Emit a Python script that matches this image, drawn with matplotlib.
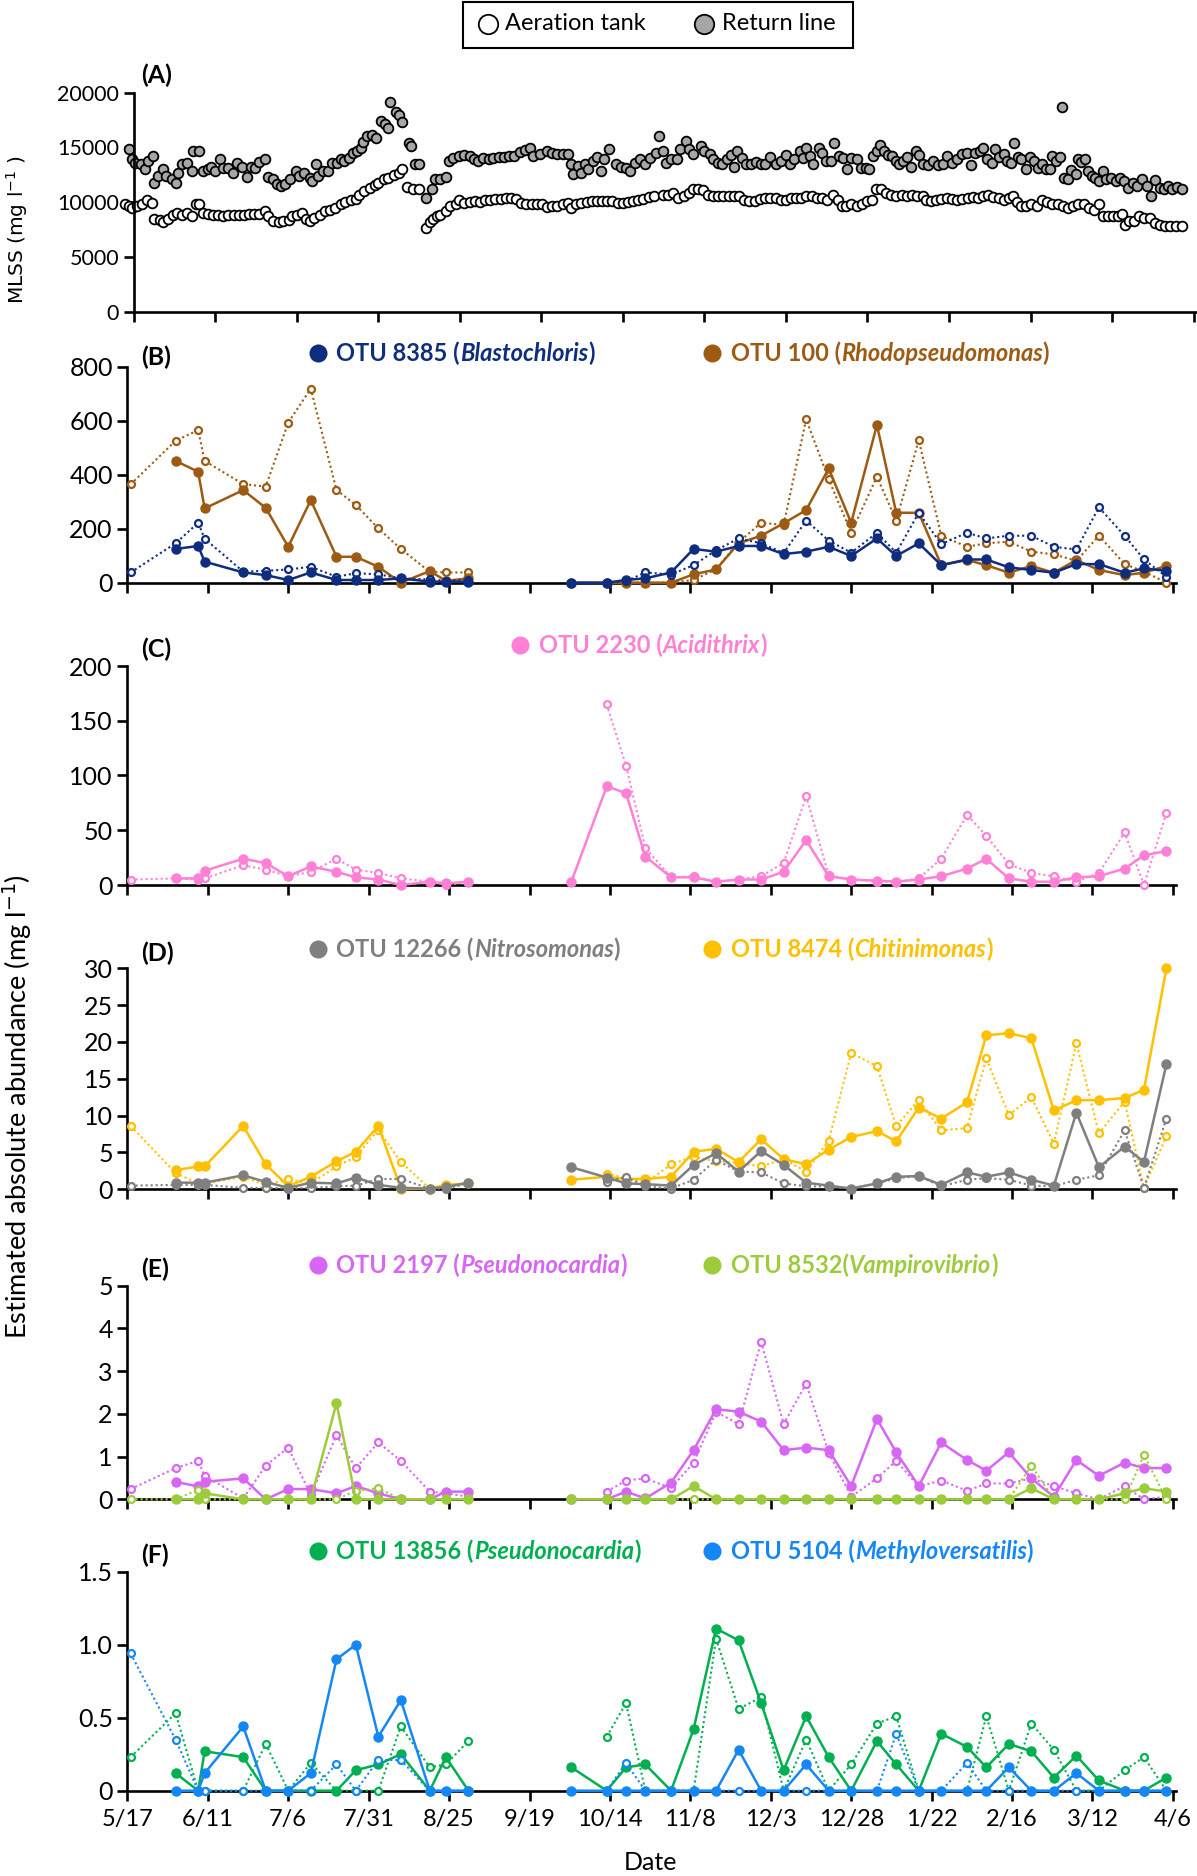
import numpy as np
import matplotlib
matplotlib.use('Agg')
import matplotlib.pyplot as plt
from matplotlib.lines import Line2D
from matplotlib.patches import Rectangle

plt.rcParams['font.family'] = ['Lato', 'DejaVu Sans']

W, H = 1197, 1876

# ---------------- (A) MLSS, (day after 5/17, mg/l) ----------------
mlss_aeration = [
    (-2.6, 9790), (-1.6, 9690), (-0.5, 9480), (1.1, 9690), (2.6, 9790), (4.0, 10240), (5.5, 9940),
    (6.3, 8470), (7.9, 8410), (9.0, 8170), (10.6, 8470), (12.1, 8870), (13.2, 9020), (14.8, 8870),
    (16.4, 9020), (17.7, 8780), (19.0, 9880), (20.1, 9880), (21.1, 9020), (22.7, 8930), (24.3, 8870),
    (25.9, 8870), (27.5, 8780), (29.0, 8870), (30.6, 8870), (32.2, 8870), (33.8, 8870), (35.4, 8930),
    (37.0, 8930), (38.5, 8930), (40.1, 9170), (41.2, 8780), (42.8, 8260), (44.4, 8170), (45.9, 8260),
    (47.5, 8350), (48.6, 8780), (50.2, 8870), (51.5, 9020), (52.8, 8470), (53.9, 8260), (55.4, 8560),
    (57.0, 8870), (58.6, 9170), (60.2, 9330), (61.8, 9480), (63.4, 9790), (64.9, 10000), (66.5, 10240),
    (68.1, 10310), (69.2, 10700), (70.7, 11010), (72.3, 11320), (73.9, 11530), (75.0, 11770),
    (76.6, 12080), (78.1, 12230), (79.7, 12450), (81.3, 12690), (82.4, 13000), (83.9, 11410),
    (85.5, 11160), (87.4, 11160), (89.5, 7650), (90.8, 8170), (91.9, 8470), (92.9, 8720), (94.0, 8870),
    (95.6, 9170), (97.1, 9630), (98.7, 9880), (99.8, 10180), (101.4, 9940), (103.0, 10000),
    (104.5, 10090), (106.1, 10000), (107.7, 10240), (109.3, 10180), (110.9, 10310), (112.5, 10310),
    (114.0, 10400), (115.6, 10400), (117.2, 10310), (118.8, 9940), (120.4, 9880), (122.0, 9880),
    (123.5, 9880), (125.1, 9880), (126.7, 9570), (128.3, 9690), (129.9, 9690), (131.5, 9790),
    (133.1, 9940), (134.1, 9480), (135.7, 9790), (137.3, 9940), (138.9, 10000), (140.4, 10090),
    (142.0, 10090), (143.6, 10090), (145.2, 10090), (146.8, 10090), (148.4, 9940), (149.9, 9940),
    (151.5, 10000), (153.1, 10090), (154.7, 10240), (156.3, 10310), (157.9, 10490), (159.5, 10550),
    (162.3, 10700), (163.9, 10700), (165.5, 10860), (167.0, 10400), (168.6, 10550), (170.2, 10860),
    (171.6, 11160), (172.9, 11220), (174.5, 11100), (176.1, 10700), (177.7, 10550), (179.2, 10550),
    (180.8, 10610), (182.4, 10610), (184.0, 10610), (185.6, 10610), (187.2, 10240), (188.8, 10090),
    (190.4, 10090), (192.0, 10310), (193.6, 10400), (195.2, 10400), (196.8, 10400), (198.4, 10180),
    (200.0, 10240), (201.5, 10400), (203.1, 10400), (204.7, 10400), (206.3, 10550), (207.9, 10610),
    (209.5, 10400), (211.1, 10400), (212.7, 10240), (214.3, 10700), (215.9, 10180), (217.3, 9690),
    (218.5, 9630), (220.1, 9790), (221.7, 9630), (223.3, 9790), (224.9, 10090), (226.5, 10180),
    (227.6, 11160), (229.1, 11160), (230.7, 10860), (232.3, 10700), (233.9, 10610), (235.5, 10700),
    (237.1, 10610), (238.7, 10700), (240.3, 10610), (241.9, 10550), (243.0, 10180), (244.5, 10090),
    (246.1, 10180), (247.7, 10310), (249.3, 10400), (250.9, 10310), (252.5, 10180), (254.1, 10310),
    (255.7, 10400), (257.3, 10490), (258.9, 10400), (260.5, 10550), (262.1, 10700), (263.6, 10490),
    (265.2, 10400), (266.8, 10240), (268.4, 10400), (269.7, 10610), (270.8, 10000), (272.1, 9690),
    (273.7, 9690), (275.3, 9790), (276.9, 9630), (278.5, 10180), (280.1, 10000), (281.7, 9880),
    (283.3, 9790), (284.9, 9630), (286.5, 9480), (288.1, 9690), (289.7, 9790), (291.3, 9880),
    (292.9, 9480), (294.5, 9270), (295.9, 9790), (297.1, 8720), (298.7, 8720), (300.3, 8720),
    (301.9, 8720), (303.0, 8960), (304.0, 7950), (305.1, 8260), (306.7, 8260), (308.3, 8780),
    (309.9, 8560), (311.5, 8560), (313.1, 8100), (314.7, 7950), (316.3, 7800), (317.9, 7800),
    (319.5, 7800), (321.5, 7800),
]

mlss_return = [
    (-1.6, 14890), (-0.5, 13910), (0.5, 13610), (2.1, 13460), (3.4, 13000), (4.4, 13760), (5.8, 14220),
    (6.3, 11770), (7.4, 12390), (9.0, 13000), (10.0, 12390), (11.6, 12080), (12.9, 11770), (13.7, 12690),
    (14.8, 13460), (16.4, 13610), (17.7, 12840), (18.2, 14680), (20.1, 14680), (21.1, 12840),
    (22.7, 13000), (23.8, 13240), (24.8, 12840), (26.4, 13980), (27.5, 13150), (29.0, 13150),
    (30.4, 12690), (31.7, 13550), (33.3, 13240), (34.8, 12320), (35.9, 13240), (37.2, 13150),
    (38.5, 13670), (40.1, 13910), (41.2, 12320), (42.8, 12080), (43.8, 11620), (45.2, 11470),
    (46.5, 11620), (48.0, 12080), (49.6, 12840), (50.7, 12390), (52.3, 12690), (53.9, 12230),
    (54.7, 11930), (55.8, 13460), (56.5, 12390), (58.1, 12840), (59.7, 12840), (60.7, 13610),
    (62.3, 13610), (63.4, 13910), (64.4, 13760), (66.0, 14070), (67.1, 14530), (68.4, 14680),
    (69.7, 14990), (70.2, 15510), (71.6, 16060), (72.9, 16120), (74.4, 15900), (75.8, 17430),
    (77.1, 17130), (77.9, 16820), (78.5, 19170), (80.3, 18200), (81.3, 17950), (82.4, 17280),
    (84.3, 15440), (85.0, 15140), (86.1, 13460), (87.6, 13460), (89.5, 10410), (91.3, 11160),
    (92.4, 12080), (94.0, 12080), (95.6, 12320), (96.6, 13760), (98.0, 14070), (99.8, 14220),
    (101.4, 14280), (103.0, 14220), (104.3, 13910), (105.6, 13760), (107.2, 14070), (108.8, 13910),
    (110.3, 14070), (111.9, 14160), (113.5, 14160), (115.1, 14220), (116.7, 14220), (118.3, 14590),
    (119.9, 14770), (121.4, 14990), (122.5, 14220), (124.6, 14370), (126.7, 14680), (128.3, 14470),
    (129.9, 14370), (131.5, 14370), (133.1, 14370), (134.1, 13460), (134.6, 12540), (136.2, 13300),
    (137.3, 12690), (138.3, 13460), (139.4, 13000), (140.7, 13760), (142.0, 14160), (143.4, 12840),
    (144.1, 13910), (145.7, 14890), (147.8, 13460), (149.4, 13240), (151.0, 13150), (152.1, 12840),
    (153.6, 13610), (155.2, 13980), (156.8, 13460), (158.4, 14070), (160.0, 14470), (161.0, 16060),
    (162.3, 14680), (163.3, 13610), (164.9, 13910), (166.5, 13910), (167.6, 14830), (169.2, 15600),
    (170.2, 14830), (171.6, 14370), (173.9, 15140), (175.0, 14680), (176.6, 14370), (177.7, 13910),
    (179.2, 13610), (180.5, 13460), (181.9, 13910), (183.0, 14280), (184.2, 13240), (185.1, 14680),
    (186.5, 14070), (187.7, 13460), (189.3, 13460), (190.9, 13670), (192.5, 13460), (193.6, 13460),
    (195.2, 14160), (196.8, 13460), (198.4, 13760), (200.0, 14280), (201.3, 13460), (202.6, 13980),
    (204.2, 14680), (205.3, 14070), (206.3, 14990), (207.4, 14220), (208.4, 13460), (210.0, 14990),
    (211.1, 14530), (212.4, 13760), (213.7, 13760), (214.8, 15380), (216.2, 14220), (217.5, 14070),
    (218.7, 13060), (220.1, 14070), (221.7, 13910), (223.0, 13150), (224.4, 13150), (225.6, 13060),
    (226.8, 14220), (227.9, 14680), (228.9, 15200), (230.2, 14680), (231.3, 14280), (232.5, 14220),
    (233.6, 13760), (234.7, 13460), (236.0, 13760), (237.1, 14160), (238.4, 13240), (239.8, 14680),
    (240.8, 14280), (242.1, 13460), (243.5, 13360), (245.1, 13760), (246.7, 13360), (248.2, 13460),
    (249.3, 14220), (250.9, 13610), (252.5, 13910), (254.1, 14370), (255.5, 14470), (256.7, 13360),
    (258.0, 14470), (259.4, 14680), (260.4, 14990), (261.8, 13910), (263.1, 13550), (264.2, 14890),
    (265.4, 14160), (266.8, 14370), (267.9, 13760), (268.9, 13610), (269.8, 15380), (271.1, 14160),
    (272.1, 13910), (273.7, 13000), (274.8, 14160), (276.1, 13760), (277.4, 13150), (278.5, 13460),
    (279.6, 13060), (280.9, 13060), (281.7, 14220), (282.7, 13760), (284.0, 14160), (284.7, 18720),
    (285.4, 12230), (286.5, 12140), (287.5, 12940), (288.8, 12540), (289.6, 13910), (290.5, 13670),
    (291.8, 13910), (292.6, 12840), (293.9, 12390), (294.9, 12230), (296.0, 11930), (297.3, 12840),
    (298.3, 12080), (299.7, 12230), (301.1, 11930), (302.4, 12230), (303.7, 11930), (305.0, 11320),
    (306.4, 11770), (307.7, 11470), (309.3, 12140), (310.7, 11470), (311.9, 10610), (313.2, 12020),
    (314.6, 11320), (316.0, 11160), (317.3, 11470), (318.5, 11160), (319.9, 11410), (321.5, 11160),
]

# ---------------- (B)-(F) sampling days (days after 5/17) ----------------
days_1 = [1, 15, 22, 24, 36, 43, 50, 57, 65, 71, 78, 85, 94, 99, 106]
days_2 = [138, 149, 155, 161, 169, 176, 183, 190, 197, 204, 211, 218, 225, 233,
          239, 246, 253, 261, 267, 274, 281, 288, 295, 302, 310, 316, 323]
N = None

# (B) OTU 8385, OTU 100  [mg/l]
otu8385_ret = [N, 125, 136, 78, 38, 28, 10, 38, 10, 10, 10, 16, 4, 4, 4,
               0, 0, 10, 16, 38, 125, 115, 136, 136, 106, 115, 133, 99, 164,
               99, 146, 65, 86, 86, 57, 47, 37, 69, 69, 37, 53, 44]
otu8385_aer = [38, 146, 222, 163, 41, 44, 49, 59, 22, 35, 31, 16, 12, 7, 10,
               N, 0, 5, 38, 30, 65, 120, 164, 146, 110, 230, 156, 111, 185,
               111, 259, 143, 185, 164, 174, 174, 133, 123, 279, 174, 86, 22]
otu100_ret = [N, 451, 411, 275, 343, 277, 133, 306, 96, 96, 59, 0, 43, 7, 16,
              0, 0, 0, 0, 0, 31, 49, 146, 174, 220, 269, 423, 222, 584,
              259, 259, 65, 84, 65, 37, 62, 37, 84, 47, 28, 37, 62]
otu100_aer = [364, 526, 565, 451, 365, 356, 593, 719, 343, 288, 201, 125, 40, 38, 38,
              N, 0, 0, 0, 0, 10, 50, 150, 222, 214, 605, 383, 185, 393,
              230, 528, 174, 133, 146, 152, 115, 105, 81, 174, 69, 41, 0]

# (C) OTU 2230
otu2230_ret = [N, 6, 6, 13, 24, 20, 8, 17, 12, 7, 5, 0, 3, 1.5, 3,
               3, 90, 84, 26, 7, 7, 3, 5, 5, 12, 41, 8, 5, 4,
               3, 5, 8, 15, 24, 6, 3, 3, 7, 8, 15, 27, 31]
otu2230_aer = [5, 6, 5, 6, 18, 14, 8, 12, 24, 14, 11, 6, 3, 0, 3,
               N, 165, 109, 34, 7, 8, 3, 5, 8, 20, 81, 9, 5, 3,
               3, 6, 24, 64, 45, 19, 11, 8, 3, 11, 48, 0, 66]

# (D) OTU 12266, OTU 8474
otu12266_ret = [N, 0.9, 0.9, 0.9, 1.9, 1.0, 0.2, 0.9, 0.8, 1.6, 0.6, 0.2, 0.1, 0.3, 0.9,
                3.0, 1.6, 0.8, 0.7, 0.5, 3.3, 4.9, 2.4, 5.2, 3.3, 0.9, 0.5, 0.1, 0.8,
                1.7, 1.8, 0.6, 2.3, 1.7, 2.3, 1.3, 0.5, 10.4, 3.0, 5.8, 3.7, 17.0]
otu12266_aer = [0.5, 0.6, 0.6, 0.6, 0.2, 0.2, 0.1, 0.2, 0.4, 0.5, 1.4, 1.4, 0.1, 0.1, 0.8,
                N, 1.0, 1.7, 0.4, 0.1, 1.3, 4.0, 2.4, 2.3, 0.8, 0.4, 0.4, 0.1, 0.8,
                1.5, 1.8, 0.4, 1.3, 1.5, 1.3, 0.5, 0.4, 1.3, 1.9, 8.0, 0.2, 9.6]
otu8474_ret = [N, 2.6, 3.1, 3.1, 8.6, 3.4, 0.4, 1.7, 3.8, 5.1, 8.6, 0.1, 0.1, 0.6, 0.8,
               1.3, 1.7, 1.4, 1.4, 1.7, 5.1, 5.5, 3.7, 6.8, 4.1, 3.4, 5.4, 7.1, 7.9,
               6.5, 11.1, 9.6, 11.8, 20.9, 21.2, 20.5, 10.7, 12.1, 12.1, 12.4, 13.5, 30.0]
otu8474_aer = [8.6, 2.2, 0.8, 0.8, 1.7, 0.6, 1.4, 0.8, 3.1, 4.4, 8.1, 3.7, 0.1, 0.4, 0.8,
               N, 2.1, 1.5, 0.8, 3.4, 4.4, 3.8, 3.6, 3.1, 4.1, 2.4, 6.6, 18.5, 16.7,
               8.6, 12.1, 8.0, 8.3, 17.8, 10.1, 12.5, 6.2, 19.8, 7.6, 11.9, 0.2, 7.2]

# (E) OTU 2197, OTU 8532
otu2197_ret = [N, 0.41, 0.30, 0.41, 0.49, 0.0, 0.24, 0.24, 0.14, 0.31, 0.14, 0.0, 0.0, 0.18, 0.18,
               0.0, 0.0, 0.18, 0.02, 0.39, 1.15, 2.11, 2.05, 1.82, 1.15, 1.21, 1.15, 0.31, 1.88,
               1.10, 0.31, 1.33, 0.92, 0.67, 1.10, 0.49, 0.06, 0.92, 0.55, 0.86, 0.73, 0.73]
otu2197_aer = [0.24, 0.73, 0.90, 0.55, 0.02, 0.79, 1.21, 0.10, 1.50, 0.73, 1.33, 0.90, 0.18, 0.14, 0.06,
               N, 0.18, 0.44, 0.49, 0.26, 0.86, 2.05, 1.76, 3.69, 1.76, 2.71, 1.09, 0.06, 0.49,
               0.90, 0.30, 0.44, 0.20, 0.37, 0.37, 0.49, 0.31, 0.14, 0.0, 0.31, 0.0, 0.06]
otu8532_ret = [N, 0, 0, 0.14, 0, 0, 0, 0, 2.25, 0, 0, 0, 0, 0, 0,
               0, 0, 0, 0, 0, 0.31, 0, 0, 0, 0, 0, 0, 0, 0,
               0, 0, 0, 0, 0, 0, 0.26, 0, 0, 0, 0.14, 0.26, 0.18]
otu8532_aer = [0, 0, 0.22, 0, 0, 0, 0, 0, 0, 0.20, 0.26, 0, 0, 0, 0,
               N, 0, 0, 0, 0, 0, 0, 0, 0, 0, 0, 0, 0, 0,
               0, 0, 0, 0, 0, 0, 0.79, 0, 0, 0, 0, 1.04, 0]

# (F) OTU 13856, OTU 5104
otu13856_ret = [N, 0.12, 0, 0.27, 0.23, 0, 0, 0, 0, 0.14, 0.18, 0.25, 0, 0.23, 0,
                0.16, 0, 0.16, 0.18, 0, 0.42, 1.11, 1.03, 0.60, 0.14, 0.51, 0.23, 0, 0.34,
                0.18, 0, 0.39, 0.30, 0.16, 0.32, 0.27, 0.09, 0.24, 0.07, 0, 0, 0.09]
otu13856_aer = [0.23, 0.53, 0, 0, 0, 0.32, 0, 0.19, 0, 0, 0, 0.44, 0.16, 0.18, 0.34,
                N, 0.37, 0.60, 0, 0, 0, 1.04, 0.56, 0.64, 0, 0.35, 0, 0.18, 0.46,
                0.51, 0, 0, 0, 0.51, 0, 0.46, 0.28, 0, 0, 0.14, 0.23, 0]
otu5104_ret = [N, 0, 0, 0.12, 0.44, 0, 0, 0.12, 0.90, 1.00, 0.37, 0.62, 0, 0, 0,
               0, 0, 0, 0, 0, 0, 0, 0.28, 0, 0, 0.18, 0, 0, 0,
               0, 0, 0, 0, 0, 0.16, 0, 0, 0.12, 0, 0, 0, 0]
otu5104_aer = [0.94, 0.35, 0, 0, 0, 0, 0, 0, 0.18, 0, 0.21, 0.21, 0, 0, 0,
               N, 0, 0.19, 0, 0, 0, 0, 0, 0, 0, 0, 0, 0, 0,
               0.39, 0, 0, 0.19, 0, 0, 0, 0, 0, 0, 0, 0, 0]

tick_days = list(range(0, 326, 25))
tick_labels = ['5/17', '6/11', '7/6', '7/31', '8/25', '9/19', '10/14', '11/8',
               '12/3', '12/28', '1/22', '2/16', '3/12', '4/6']


def fx(px):
    return px / W


def fy(py):
    return 1 - py / H


def style_axis(ax, ymax, ystep, labelsize):
    for s in ('top', 'right'):
        ax.spines[s].set_visible(False)
    for s in ('left', 'bottom'):
        ax.spines[s].set_linewidth(1.9)
    ax.set_xlim(0, 326)
    ax.set_ylim(0, ymax)
    ax.set_xticks(tick_days)
    ax.set_xticklabels([])
    ax.set_yticks(np.arange(0, ymax + ystep / 2, ystep))
    ax.tick_params(direction='out', length=7, width=1.9, labelsize=labelsize)


def plot_otu(ax, ret, aer, color, z):
    days = days_1 + days_2
    n1 = len(days_1)
    for lo, hi in ((0, n1), (n1, len(days))):
        for vals, filled in ((aer, False), (ret, True)):
            pts = [(d, v) for d, v in zip(days[lo:hi], vals[lo:hi]) if v is not None]
            xs = [p[0] for p in pts]
            ys = [p[1] for p in pts]
            if filled:
                ax.plot(xs, ys, '-', color=color, lw=1.8, marker='o', ms=6.5,
                        mfc=color, mec=color, clip_on=False, zorder=z + 1)
            else:
                ax.plot(xs, ys, color=color, lw=1.5, ls=(0, (1, 1.4)), marker='o', ms=5,
                        mfc='white', mec=color, mew=1.6, clip_on=False, zorder=z)


def otu_label(ax, xpx, ypx, color, head, genus, tail):
    fig.add_artist(Line2D([fx(xpx)], [fy(ypx)], marker='o', ms=13, color=color,
                          mew=0, transform=fig.transFigure))
    kw = dict(color=color, fontsize=17, fontweight='bold')
    t = fig.text(fx(xpx + 19), fy(ypx), head, va='center', ha='left', **kw)
    t = ax.annotate(genus, xy=(1, 0), xycoords=t, va='bottom', ha='left',
                    style='italic', annotation_clip=False, **kw)
    ax.annotate(tail, xy=(1, 0), xycoords=t, va='bottom', ha='left',
                annotation_clip=False, **kw)


fig = plt.figure(figsize=(W / 100, H / 100), dpi=100)

# ---- top legend ----
fig.add_artist(Rectangle((fx(463), fy(48)), 390 / W, 46 / H, transform=fig.transFigure,
                         fill=False, edgecolor='black', lw=1.5))
fig.add_artist(Line2D([fx(488)], [fy(24)], marker='o', ms=14, mfc='white', mec='black',
                      mew=1.3, transform=fig.transFigure))
fig.text(fx(505), fy(24), 'Aeration tank', fontsize=17, va='center', ha='left')
fig.add_artist(Line2D([fx(704)], [fy(24)], marker='o', ms=14, mfc='#a6a6a6', mec='black',
                      mew=1.3, transform=fig.transFigure))
fig.text(fx(722), fy(24), 'Return line', fontsize=17, va='center', ha='left')

# ---- (A) MLSS ----
axA = fig.add_axes([fx(133.8), fy(311.7), 1063 / W, 219 / H])
style_axis(axA, 20000, 5000, 15.5)
axA.plot([p[0] for p in mlss_aeration], [p[1] for p in mlss_aeration], ls='none',
         marker='o', ms=7, mfc='white', mec='black', mew=1.3, clip_on=False)
axA.plot([p[0] for p in mlss_return], [p[1] for p in mlss_return], ls='none',
         marker='o', ms=7, mfc='#a6a6a6', mec='black', mew=1.3, clip_on=False)
fig.text(fx(141), fy(75), '(A)', fontsize=18, fontweight='bold', va='center', ha='left')
fig.text(fx(17), fy(230), r'MLSS (mg l$^{-1}$ )', family='DejaVu Sans', fontsize=14.5,
         rotation=90, va='center', ha='center')

# ---- (B)-(F) ----
panels = [
    ('(B)', 582.7, 216, 800, 200, 357,
     [(otu100_ret, otu100_aer, '#9c5a12', 'OTU 100 (', 'Rhodopseudomonas', ')', 711.8),
      (otu8385_ret, otu8385_aer, '#0f2d7e', 'OTU 8385 (', 'Blastochloris', ')', 317.5)]),
    ('(C)', 885, 219, 200, 50, 649,
     [(otu2230_ret, otu2230_aer, '#ff80d4', 'OTU 2230 (', 'Acidithrix', ')', 520)]),
    ('(D)', 1189.3, 221, 30, 5, 953,
     [(otu8474_ret, otu8474_aer, '#ffc000', 'OTU 8474 (', 'Chitinimonas', ')', 711.8),
      (otu12266_ret, otu12266_aer, '#7f7f7f', 'OTU 12266 (', 'Nitrosomonas', ')', 317.5)]),
    ('(E)', 1499.3, 213.6, 5, 1, 1269,
     [(otu2197_ret, otu2197_aer, '#d866f5', 'OTU 2197 (', 'Pseudonocardia', ')', 317.5),
      (otu8532_ret, otu8532_aer, '#9ccc3c', 'OTU 8532(', 'Vampirovibrio', ')', 711.8)]),
    ('(F)', 1790.7, 219, 1.5, 0.5, 1555,
     [(otu13856_ret, otu13856_aer, '#00b050', 'OTU 13856 (', 'Pseudonocardia', ')', 317.5),
      (otu5104_ret, otu5104_aer, '#1587f5', 'OTU 5104 (', 'Methyloversatilis', ')', 711.8)]),
]

axes = []
for tag, y0, hpx, ymax, ystep, ylab, series in panels:
    ax = fig.add_axes([fx(127.4), fy(y0), 1048.7 / W, hpx / H])
    style_axis(ax, ymax, ystep, 18)
    for k, (ret, aer, color, head, genus, tail, lx) in enumerate(series):
        plot_otu(ax, ret, aer, color, 3 + 2 * k)
        otu_label(ax, lx, ylab - 4, color, head, genus, tail)
    fig.text(fx(141), fy(ylab), tag, fontsize=18, fontweight='bold', va='center', ha='left')
    axes.append(ax)

axF = axes[-1]
axF.set_yticklabels(['0', '0.5', '1.0', '1.5'])
axF.set_xticklabels(tick_labels)
axF.tick_params(axis='x', pad=6, labelsize=17)

fig.text(fx(17), fy(1107), r'Estimated absolute abundance (mg l$^{-1}$)', fontsize=19.5,
         rotation=90, va='center', ha='center')
fig.text(fx(650), fy(1862), 'Date', fontsize=18, va='center', ha='center')

fig.savefig('out.png', dpi=100)
